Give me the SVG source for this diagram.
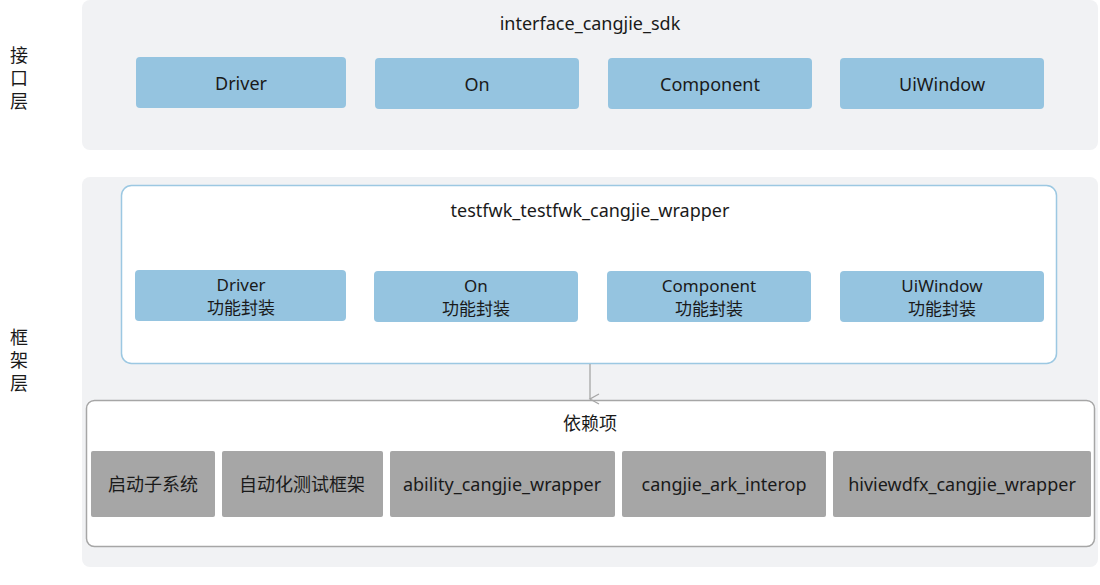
<svg xmlns="http://www.w3.org/2000/svg" width="1100" height="585" viewBox="0 0 1100 585">
<style>
text{font-family:"Noto Sans","Noto Sans CJK SC",sans-serif;font-size:18px;fill:#1a1a1a;text-anchor:middle;dominant-baseline:central}
.panel{fill:#f1f2f4}
.blue{fill:#95c4e0}
.gray{fill:#a6a6a6}
.two{font-size:17px}
</style>
<defs>
<marker id="arr" markerWidth="12" markerHeight="12" refX="6" refY="10" orient="auto" markerUnits="userSpaceOnUse">
<path d="M1,1 L6,10 L11,1" fill="none" stroke="#a6a6a6" stroke-width="1.3"/>
</marker>
</defs>
<rect width="1100" height="585" fill="#fff"/>
<g id="layer-interface">
<rect class="panel" x="82" y="0" width="1016" height="150" rx="8"/>
<text x="590" y="23">interface_cangjie_sdk</text>
<text x="19" y="55">接</text>
<text x="19" y="78">口</text>
<text x="19" y="101">层</text>
</g>
<g id="n-driver"><rect class="blue" x="136" y="57" width="210" height="51" rx="4"/><text x="241" y="83">Driver</text></g>
<g id="n-on"><rect class="blue" x="375" y="58" width="204" height="51" rx="4"/><text x="477" y="84">On</text></g>
<g id="n-component"><rect class="blue" x="608" y="58" width="204" height="51" rx="4"/><text x="710" y="84">Component</text></g>
<g id="n-uiwindow"><rect class="blue" x="840" y="58" width="204" height="51" rx="4"/><text x="942" y="84">UiWindow</text></g>
<g id="layer-framework">
<rect class="panel" x="82" y="177" width="1016" height="390" rx="8"/>
<text x="19" y="337">框</text>
<text x="19" y="360">架</text>
<text x="19" y="383">层</text>
</g>
<g id="wrapper">
<rect x="121.5" y="185.5" width="935" height="178" rx="10" fill="#fff" stroke="#9cc8e2" stroke-width="1.5"/>
<text x="590" y="210">testfwk_testfwk_cangjie_wrapper</text>
</g>
<g id="w-driver"><rect class="blue" x="135" y="270" width="211" height="51" rx="4"/><text class="two" x="241" y="284">Driver</text><text class="two" x="241" y="307">功能封装</text></g>
<g id="w-on"><rect class="blue" x="374" y="271" width="204" height="51" rx="4"/><text class="two" x="476" y="285">On</text><text class="two" x="476" y="308">功能封装</text></g>
<g id="w-component"><rect class="blue" x="607" y="271" width="204" height="51" rx="4"/><text class="two" x="709" y="285">Component</text><text class="two" x="709" y="308">功能封装</text></g>
<g id="w-uiwindow"><rect class="blue" x="840" y="271" width="204" height="51" rx="4"/><text class="two" x="942" y="285">UiWindow</text><text class="two" x="942" y="308">功能封装</text></g>
<g id="deps">
<rect x="86.5" y="400.5" width="1008" height="146" rx="8" fill="#fff" stroke="#a6a6a6" stroke-width="1.5"/>
<text x="590" y="423">依赖项</text>
</g>
<g id="d-boot"><rect class="gray" x="91" y="451" width="124" height="66" rx="2"/><text x="153" y="484">启动子系统</text></g>
<g id="d-autotest"><rect class="gray" x="222" y="451" width="161" height="66" rx="2"/><text x="302" y="484">自动化测试框架</text></g>
<g id="d-ability"><rect class="gray" x="390" y="451" width="225" height="66" rx="2"/><text x="502" y="484">ability_cangjie_wrapper</text></g>
<g id="d-ark"><rect class="gray" x="622" y="451" width="204" height="66" rx="2"/><text x="724" y="484">cangjie_ark_interop</text></g>
<g id="d-hiview"><rect class="gray" x="833" y="451" width="258" height="66" rx="2"/><text x="962" y="484">hiviewdfx_cangjie_wrapper</text></g>
<g id="connectors">
<line x1="590" y1="364" x2="590" y2="399" stroke="#a6a6a6" stroke-width="1.3" marker-end="url(#arr)"/>
</g>
</svg>
